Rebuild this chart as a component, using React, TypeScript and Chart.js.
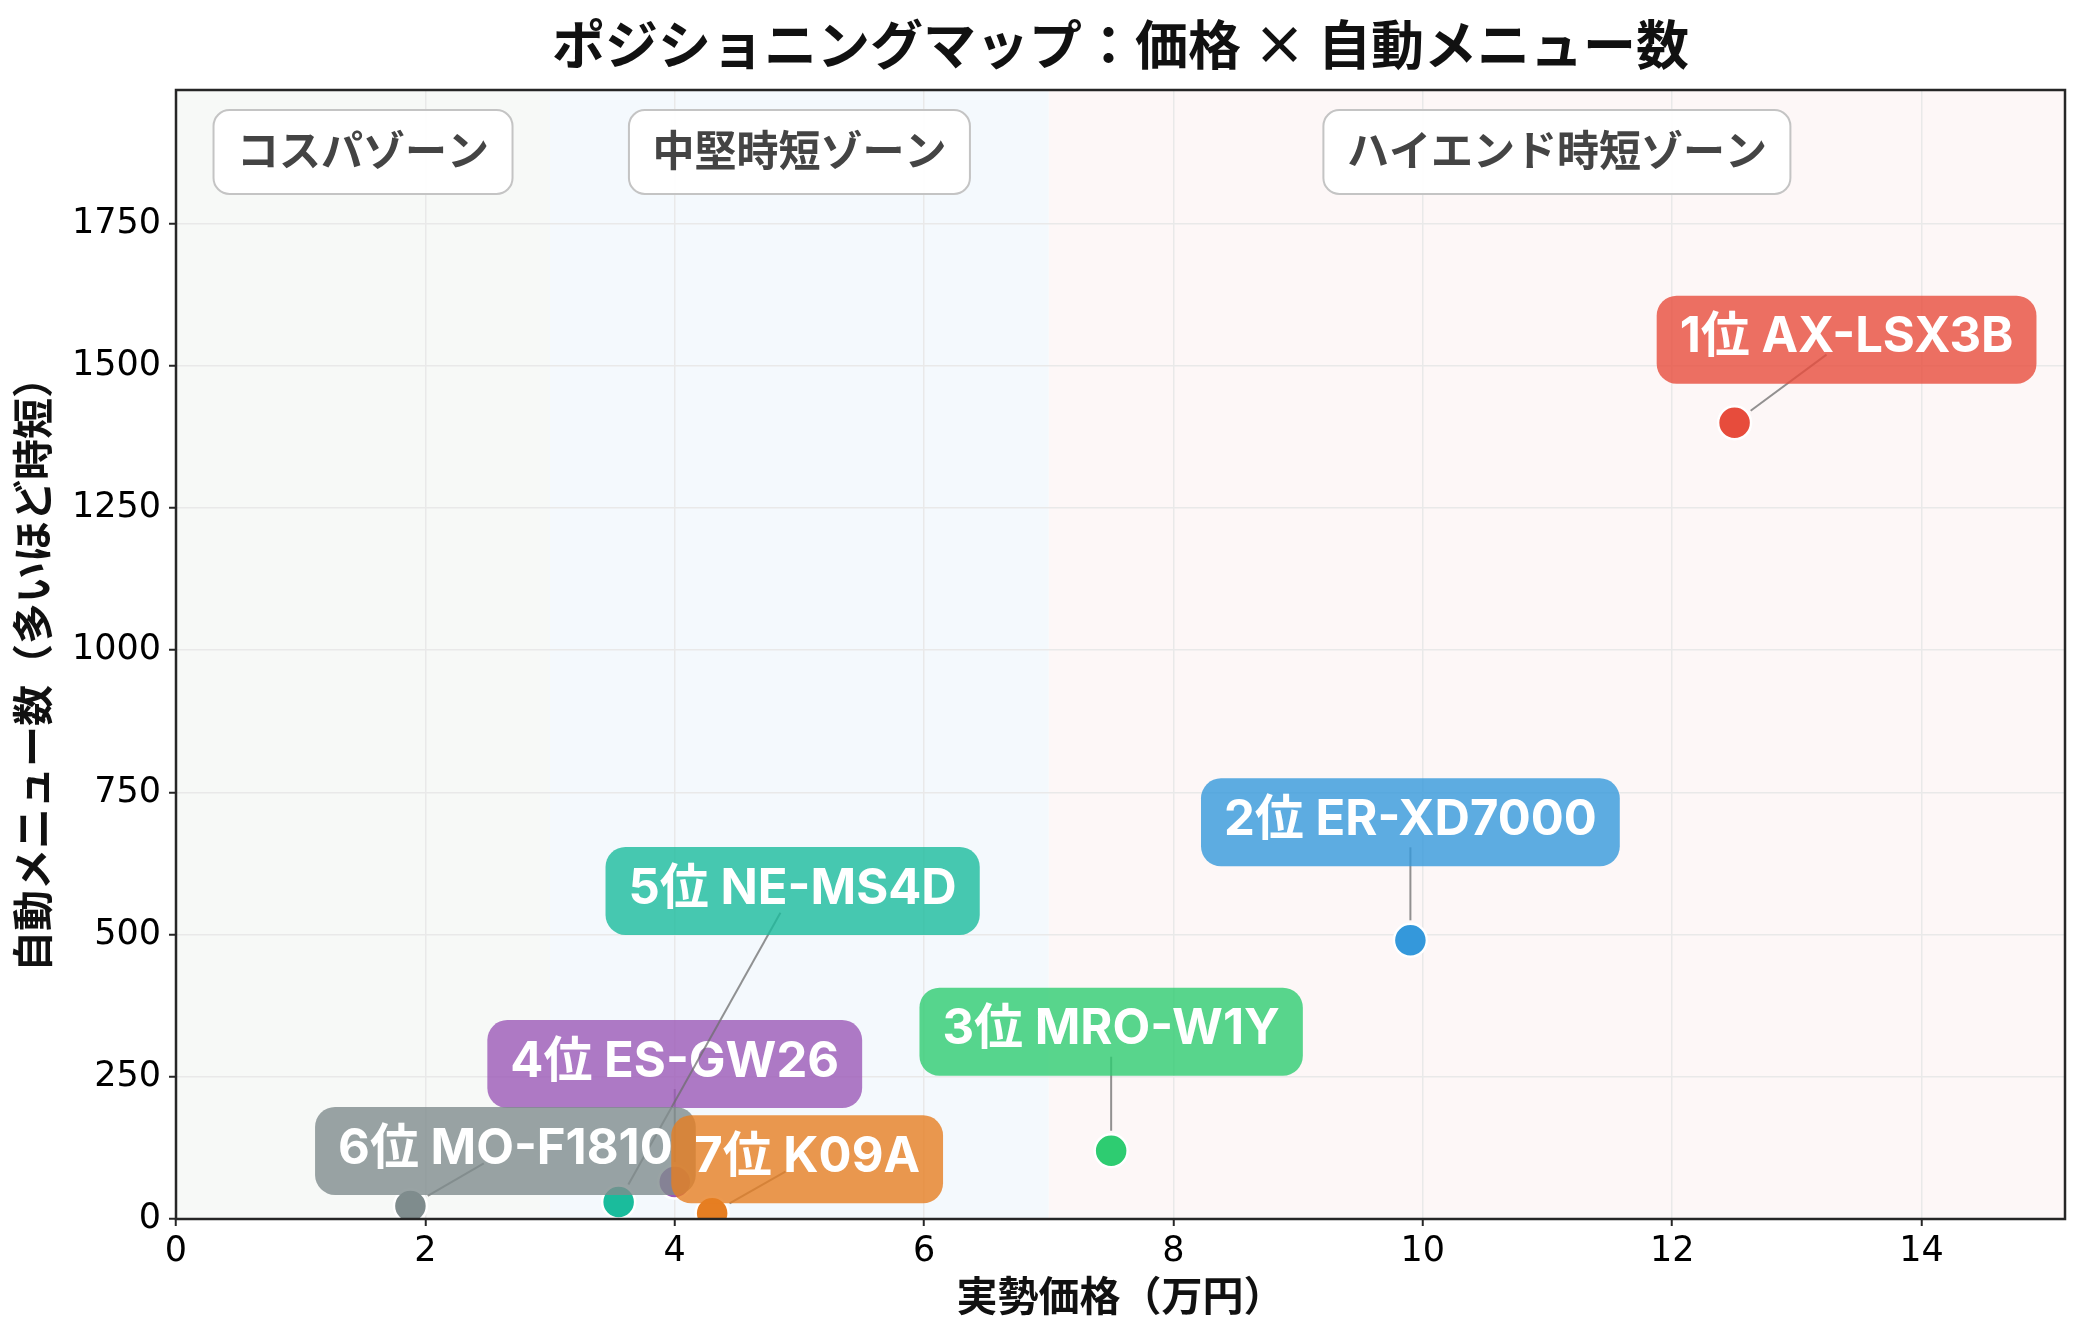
import React, { useEffect, useRef } from 'react';
import { Chart, registerables } from 'chart.js';

Chart.register(...registerables);

const W = 2084;
const H = 1334;
const FONT = '"Noto Sans CJK JP", "Noto Sans", sans-serif';
const LFONT = 'Inter, "Noto Sans CJK JP", sans-serif';
const TFONT = '"DejaVu Sans", sans-serif';

// ---- data ----
const ranks = ['1位', '2位', '3位', '4位', '5位', '6位', '7位'];
const models = ['AX-LSX3B', 'ER-XD7000', 'MRO-W1Y', 'ES-GW26', 'NE-MS4D', 'MO-F1810', 'K09A'];
const prices = [12.5, 9.9, 7.5, 4.0, 3.55, 1.88, 4.3];
const menus = [1400, 490, 120, 65, 30, 23, 10];

const zoneNames = ['コスパゾーン', '中堅時短ゾーン', 'ハイエンド時短ゾーン'];
const zoneFrom = [0, 3, 7];
const zoneTo = [3, 7, 15.15];

const xTicks = [0, 2, 4, 6, 8, 10, 12, 14];
const yTicks = [0, 250, 500, 750, 1000, 1250, 1500, 1750];

const TITLE = 'ポジショニングマップ：価格 × 自動メニュー数';
const X_TITLE = '実勢価格（万円）';
const Y_TITLE = '自動メニュー数（多いほど時短）';

// ---- styles ----
const X_MIN = 0;
const X_MAX = 15.15;
const Y_MIN = 0;
const Y_MAX = 1985;
const pointColors = ['#e74c3c', '#3498db', '#2ecc71', '#9b59b6', '#1abc9c', '#7f8c8d', '#e67e22'];
const zoneFills = ['#f7f9f7', '#f4f9fd', '#fdf7f7'];
const labelDx = [112, 0, 0, 0, 174, 95, 95];
const labelDy = [-83, -118, -119, -118, -311, -55, -54];

function rgba(hex: string, a: number) {
  const n = parseInt(hex.slice(1), 16);
  return `rgba(${(n >> 16) & 255},${(n >> 8) & 255},${n & 255},${a})`;
}

const overlayPlugin = {
  id: 'overlay',
  beforeDraw(chart: any) {
    const { ctx, chartArea, scales } = chart;
    const x = scales.x;
    ctx.save();
    ctx.fillStyle = '#ffffff';
    ctx.fillRect(0, 0, chart.width, chart.height);
    for (let i = 0; i < zoneFrom.length; i++) {
      const x0 = x.getPixelForValue(zoneFrom[i]);
      const x1 = Math.min(x.getPixelForValue(zoneTo[i]), chartArea.right);
      ctx.fillStyle = zoneFills[i];
      ctx.fillRect(x0, chartArea.top, x1 - x0, chartArea.bottom - chartArea.top);
    }
    ctx.restore();
  },
  afterDatasetsDraw(chart: any) {
    const { ctx, chartArea, scales } = chart;
    const x = scales.x;
    const y = scales.y;
    ctx.save();
    // frame
    ctx.strokeStyle = '#262626';
    ctx.lineWidth = 2.5;
    ctx.strokeRect(chartArea.left, chartArea.top, chartArea.right - chartArea.left, chartArea.bottom - chartArea.top);

    // annotations
    ctx.font = `bold 49px ${LFONT}`;
    ctx.textAlign = 'center';
    ctx.textBaseline = 'middle';
    for (let i = 0; i < prices.length; i++) {
      const px = x.getPixelForValue(prices[i]);
      const py = y.getPixelForValue(menus[i]);
      const cx = px + labelDx[i];
      const cy = py + labelDy[i];
      const dx = cx - px;
      const dy = cy - py;
      const len = Math.hypot(dx, dy);
      const ux = dx / len;
      const uy = dy / len;
      const sA = 20;
      const sB = 25;
      ctx.strokeStyle = 'rgba(110,110,110,0.75)';
      ctx.lineWidth = 2;
      ctx.beginPath();
      ctx.moveTo(px + ux * sA, py + uy * sA);
      ctx.lineTo(cx - ux * sB, cy - uy * sB);
      ctx.stroke();

      const text = `${ranks[i]} ${models[i]}`;
      const tw = ctx.measureText(text).width;
      const bw = tw + 46;
      const bh = 88;
      ctx.fillStyle = rgba(pointColors[i], 0.8);
      ctx.beginPath();
      ctx.roundRect(cx - bw / 2, cy - bh / 2, bw, bh, 20);
      ctx.fill();
      ctx.fillStyle = '#ffffff';
      ctx.fillText(text, cx, cy - 2);
    }
    ctx.restore();
  },
  afterDraw(chart: any) {
    const { ctx, chartArea, scales } = chart;
    const x = scales.x;
    ctx.save();
    // zone labels
    ctx.font = `bold 42px ${FONT}`;
    ctx.textAlign = 'center';
    ctx.textBaseline = 'middle';
    for (let i = 0; i < zoneNames.length; i++) {
      const cx = (x.getPixelForValue(zoneFrom[i]) + Math.min(x.getPixelForValue(zoneTo[i]), chartArea.right)) / 2;
      const cy = chartArea.top + 62;
      const tw = ctx.measureText(zoneNames[i]).width;
      const bw = tw + 47;
      const bh = 84;
      ctx.fillStyle = 'rgba(255,255,255,0.92)';
      ctx.strokeStyle = '#c4c4c4';
      ctx.lineWidth = 2;
      ctx.beginPath();
      ctx.roundRect(cx - bw / 2, cy - bh / 2, bw, bh, 16);
      ctx.fill();
      ctx.stroke();
      ctx.fillStyle = '#444444';
      ctx.fillText(zoneNames[i], cx, cy - 2);
    }

    const midX = (chartArea.left + chartArea.right) / 2;
    const midY = (chartArea.top + chartArea.bottom) / 2;
    // title
    ctx.fillStyle = '#111111';
    ctx.font = `bold 53px ${FONT}`;
    ctx.fillText(TITLE, midX, 45);
    // x title
    ctx.font = `bold 41px ${FONT}`;
    ctx.fillText(X_TITLE, midX, 1295);
    // y title
    ctx.translate(32, midY + 10);
    ctx.rotate(-Math.PI / 2);
    ctx.fillText(Y_TITLE, 0, 0);
    ctx.restore();
  },
};

export default function App() {
  const ref = useRef<HTMLCanvasElement | null>(null);
  useEffect(() => {
    if (!ref.current) return;
    const chart = new Chart(ref.current, {
      type: 'scatter',
      data: {
        datasets: [
          {
            data: prices.map((p, i) => ({ x: p, y: menus[i] })),
            backgroundColor: pointColors,
            borderColor: '#ffffff',
            borderWidth: 2.5,
            pointRadius: 16.5,
            pointHoverRadius: 16.5,
          },
        ],
      },
      options: {
        animation: false,
        responsive: false,
        devicePixelRatio: 1,
        events: [],
        layout: { padding: { left: 0, right: 14, top: 90, bottom: 0 } },
        plugins: {
          legend: { display: false },
          tooltip: { enabled: false },
          title: { display: false },
        },
        scales: {
          x: {
            type: 'linear',
            min: X_MIN,
            max: X_MAX,
            afterBuildTicks: (s: any) => {
              s.ticks = xTicks.map((v) => ({ value: v }));
            },
            afterFit: (s: any) => {
              s.height = 115;
            },
            grid: { color: '#e9e9e9', lineWidth: 1.5, tickColor: '#262626', tickLength: 7, tickWidth: 2 },
            border: { display: false },
            ticks: {
              autoSkip: false,
              maxRotation: 0,
              padding: 5,
              color: '#000000',
              font: { family: TFONT, size: 35 },
              callback: (v: any) => String(v),
            },
          },
          y: {
            type: 'linear',
            min: Y_MIN,
            max: Y_MAX,
            afterBuildTicks: (s: any) => {
              s.ticks = yTicks.map((v) => ({ value: v }));
            },
            afterFit: (s: any) => {
              s.width = 176;
            },
            grid: { color: '#e9e9e9', lineWidth: 1.5, tickColor: '#262626', tickLength: 7, tickWidth: 2 },
            border: { display: false },
            ticks: {
              autoSkip: false,
              padding: 8,
              color: '#000000',
              font: { family: TFONT, size: 35 },
              callback: (v: any) => String(v),
            },
          },
        },
      },
      plugins: [overlayPlugin],
    } as any);
    return () => chart.destroy();
  }, []);
  return (
    <div style={{ position: 'fixed', left: 0, top: 0, width: W, height: H, background: '#fff' }}>
      <canvas ref={ref} width={W} height={H} style={{ width: W, height: H, display: 'block' }} />
    </div>
  );
}
